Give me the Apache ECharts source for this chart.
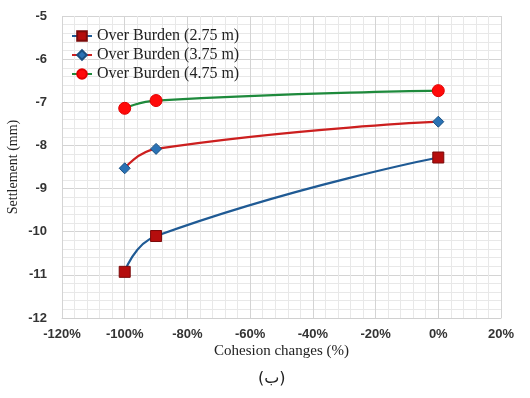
<!doctype html>
<html><head><meta charset="utf-8"></head>
<body style="margin:0;background:#fff">
<div id="container" style="width:530px;height:398px"></div>
<script src="https://cdn.jsdelivr.net/npm/echarts@6/dist/echarts.min.js"></script>
<script>
// cohesion change (%) and settlement (mm)
var cohesion = [-100, -90, 0];
var ob275 = [-10.93, -10.10, -8.28];
var ob375 = [-8.53, -8.08, -7.45];
var ob475 = [-7.14, -6.96, -6.73];
var names = ['Over Burden (2.75 m)', 'Over Burden (3.75 m)', 'Over Burden (4.75 m)'];

function pairs(ys) {
    return cohesion.map(function (x, i) { return [x, ys[i]]; });
}

var myChart = echarts.init(document.getElementById('container'));
var tickFont = {fontFamily: 'Liberation Sans', fontSize: 13, color: '#333', fontWeight: 'bold'};
var serif = 'Liberation Serif';

var option = {
    animation: false,
    grid: {left: 62, right: 29, top: 16, bottom: 80, outerBoundsMode: 'none', containLabel: false},
    legend: {
        left: 66, top: 23, orient: 'vertical', itemGap: 3,
        itemWidth: 20, itemHeight: 12,
        textStyle: {fontFamily: serif, fontSize: 16, color: '#222'},
        data: names
    },
    xAxis: {
        type: 'value', min: -120, max: 20, interval: 20,
        name: 'Cohesion changes (%)', nameLocation: 'middle', nameGap: 26,
        nameMoveOverlap: false,
        nameTextStyle: {fontFamily: serif, fontSize: 15, color: '#222'},
        axisLabel: Object.assign({formatter: '{value}%', margin: 10}, tickFont),
        axisLine: {lineStyle: {color: '#d0d0d0'}},
        axisTick: {show: false},
        splitLine: {lineStyle: {color: '#d4d4d4'}},
        minorTick: {show: false, splitNumber: 5},
        minorSplitLine: {show: true, lineStyle: {color: '#e8e8e8'}}
    },
    yAxis: {
        type: 'value', min: -12, max: -5, interval: 1,
        name: 'Settlement (mm)', nameLocation: 'middle', nameGap: 42,
        nameMoveOverlap: false,
        nameTextStyle: {fontFamily: serif, fontSize: 14, color: '#222'},
        axisLabel: Object.assign({margin: 15}, tickFont),
        axisLine: {show: true, lineStyle: {color: '#d0d0d0'}},
        axisTick: {show: false},
        splitLine: {lineStyle: {color: '#d4d4d4'}},
        minorTick: {show: false, splitNumber: 5},
        minorSplitLine: {show: true, lineStyle: {color: '#e8e8e8'}}
    },
    graphic: [{
        type: 'text', left: 258, top: 371,
        style: {text: '(ب)', font: '16px "DejaVu Sans"', fill: '#222'}
    }],
    series: [
        {
            name: names[0], type: 'line', smooth: 0.5, data: pairs(ob275),
            symbol: 'rect', symbolSize: 11,
            itemStyle: {color: '#b50d0d', borderColor: '#7a0a0a', borderWidth: 1},
            lineStyle: {color: '#1f5a94', width: 2.2}
        },
        {
            name: names[1], type: 'line', smooth: 0.5, data: pairs(ob375),
            symbol: 'diamond', symbolSize: 11,
            itemStyle: {color: '#2a72b5', borderColor: '#1a4f80', borderWidth: 1},
            lineStyle: {color: '#cc1f1f', width: 2.2}
        },
        {
            name: names[2], type: 'line', smooth: 0.5, data: pairs(ob475),
            symbol: 'circle', symbolSize: 12,
            itemStyle: {color: '#ff0a0a', borderColor: '#e00000', borderWidth: 1},
            lineStyle: {color: '#1e8a3c', width: 2.2}
        }
    ]
};
myChart.setOption(option);
</script>
</body></html>
